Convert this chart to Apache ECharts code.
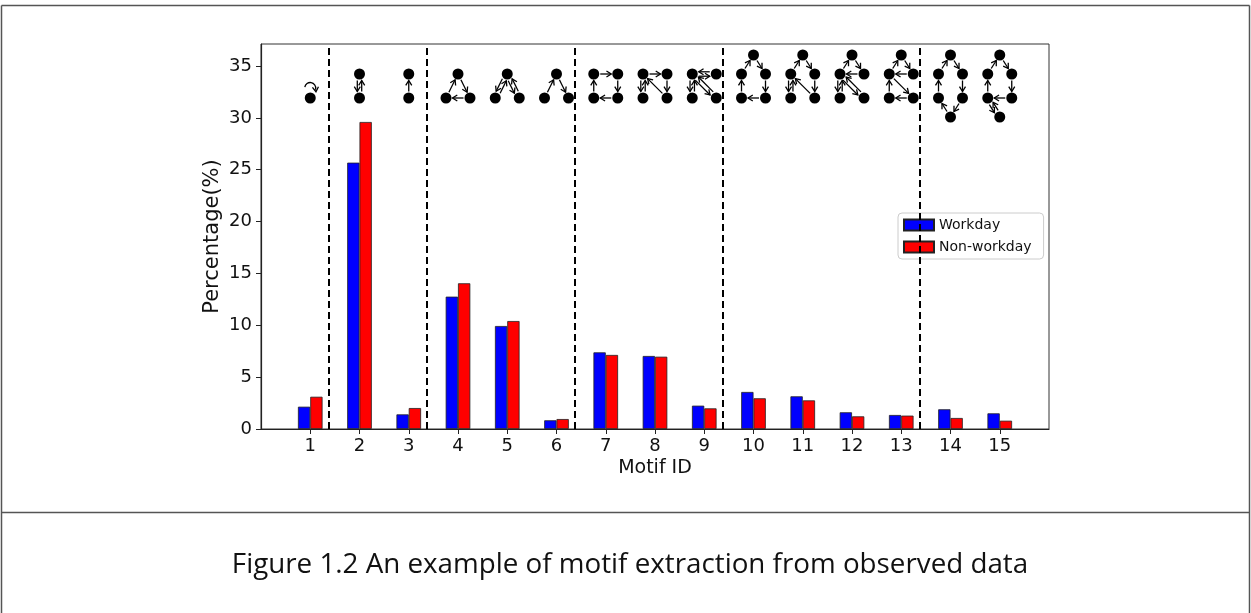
<!DOCTYPE html>
<html>
<head>
<meta charset="utf-8">
<script src="https://cdn.jsdelivr.net/npm/echarts@6/dist/echarts.min.js"></script>
<style>
html,body{margin:0;padding:0;background:#fff;}
#chart{width:1251px;height:613px;}
</style>
</head>
<body>
<div id="chart"></div>
<script>
// ---- data ----
const motifIds = [1,2,3,4,5,6,7,8,9,10,11,12,13,14,15];
const xTickValues = [1,2,3,4,5,6,7,8,9,10,11,12,13,14,15];
const yTickValues = [0,5,10,15,20,25,30,35];
const workday    = [2.15, 25.68, 1.41, 12.76, 9.93, 0.84, 7.39, 7.04, 2.25, 3.57, 3.15, 1.61, 1.35, 1.90, 1.51];
const nonWorkday = [3.11, 29.60, 2.02, 14.05, 10.41, 0.96, 7.14, 6.97, 1.99, 2.96, 2.76, 1.22, 1.29, 1.06, 0.80];
const groupBoundaries = [1.5, 3.5, 6.5, 9.5, 13.5];
const seriesNames = ['Workday', 'Non-workday'];
const captionText = 'Figure 1.2 An example of motif extraction from observed data';

// motif graph structures: nodes as [column, row], edges as [from, to]
const T=[0,0], ML=[-1,1], MR=[1,1], BL=[-1,2], BR=[1,2], BOT=[0,3], C1=[0,1], C2=[0,2];
const motifs = [
  {nodes:[C2], edges:[[0,0]]},
  {nodes:[C1,C2], edges:[[1,0],[0,1]]},
  {nodes:[C1,C2], edges:[[1,0]]},
  {nodes:[C1,BL,BR], edges:[[1,0],[0,2],[2,1]]},
  {nodes:[C1,BL,BR], edges:[[1,0],[0,1],[0,2],[2,0]]},
  {nodes:[C1,BL,BR], edges:[[1,0],[0,2]]},
  {nodes:[ML,MR,BL,BR], edges:[[0,1],[1,3],[3,2],[2,0]]},
  {nodes:[ML,MR,BL,BR], edges:[[0,1],[1,3],[0,2],[2,0],[3,0]]},
  {nodes:[ML,MR,BL,BR], edges:[[0,1],[1,0],[0,2],[2,0],[0,3],[3,0]]},
  {nodes:[T,ML,MR,BL,BR], edges:[[1,0],[0,2],[2,4],[4,3],[3,1]]},
  {nodes:[T,ML,MR,BL,BR], edges:[[1,0],[0,2],[2,4],[1,3],[3,1],[4,1]]},
  {nodes:[T,ML,MR,BL,BR], edges:[[1,0],[0,2],[2,1],[1,3],[3,1],[1,4],[4,1]]},
  {nodes:[T,ML,MR,BL,BR], edges:[[1,0],[0,2],[2,1],[3,1],[1,4],[4,3]]},
  {nodes:[T,ML,MR,BL,BR,BOT], edges:[[1,0],[0,2],[2,4],[4,5],[5,3],[3,1]]},
  {nodes:[T,ML,MR,BL,BR,BOT], edges:[[1,0],[0,2],[2,4],[4,3],[3,1],[3,5],[5,3]]}
];

const Y_MAX = 37.12;
const FONT = '"DejaVu Sans", sans-serif';

function arrowShapes(p, q, offset, out) {
  const dx = q[0]-p[0], dy = q[1]-p[1];
  const L = Math.hypot(dx, dy);
  const ux = dx/L, uy = dy/L, nx = -uy, ny = ux;
  const sx = p[0] + ux*6.5 + nx*offset, sy = p[1] + uy*6.5 + ny*offset;
  const ex = q[0] - ux*6.5 + nx*offset, ey = q[1] - uy*6.5 + ny*offset;
  const st = {stroke:'#000', lineWidth:1.3, fill:null};
  out.push({type:'line', shape:{x1:sx,y1:sy,x2:ex,y2:ey}, style:st});
  out.push({type:'polyline', shape:{points:[[ex-ux*4.8+nx*3, ey-uy*4.8+ny*3],[ex,ey],[ex-ux*4.8-nx*3, ey-uy*4.8-ny*3]]}, style:st});
}

function renderMotif(params, api) {
  const id = api.value(0);
  const m = motifs[params.dataIndex];
  const cx = api.coord([id, 0])[0];
  const top = api.coord([id, Y_MAX])[1];
  const rowOff = [11, 30, 54, 73];
  const pts = m.nodes.map(n => [cx + n[0]*12, top + rowOff[n[1]]]);
  const children = [];
  m.edges.forEach(e => {
    const a = e[0], b = e[1];
    if (a === b) {
      const p = pts[a];
      const acx = p[0], acy = p[1] - 10;
      children.push({type:'arc', shape:{cx:acx, cy:acy, r:5.5, startAngle:Math.PI*1.05, endAngle:Math.PI*2.1, clockwise:true}, style:{stroke:'#000', lineWidth:1.3, fill:null}});
      const hx = acx + 5.4, hy = acy + 1.5;
      children.push({type:'polyline', shape:{points:[[hx-3.2, hy-2.2],[hx+0.3, hy+2.2],[hx+2.8, hy-2.8]]}, style:{stroke:'#000', lineWidth:1.3, fill:null}});
      return;
    }
    const bidir = m.edges.some(f => f[0] === b && f[1] === a);
    arrowShapes(pts[a], pts[b], bidir ? 2.2 : 0, children);
  });
  pts.forEach(p => children.push({type:'circle', shape:{cx:p[0], cy:p[1], r:5.5}, style:{fill:'#000'}}));
  return {type:'group', children};
}

const chart = echarts.init(document.getElementById('chart'), null, {renderer:'canvas'});

// caption font size fitted to reference width
const mctx = document.createElement('canvas').getContext('2d');
mctx.font = '22px "Open Sans"';
const capSize = Math.max(16, Math.min(30, 22 * 797 / mctx.measureText(captionText).width));

const option = {
  backgroundColor: '#fff',
  animation: false,
  textStyle: {fontFamily: FONT},
  grid: {left: 261, top: 44, width: 788, height: 385, show: true, borderColor: '#333', borderWidth: 1, backgroundColor: 'transparent', outerBoundsMode: 'none'},
  legend: {
    data: seriesNames,
    orient: 'vertical',
    left: 898, top: 213,
    icon: 'rect',
    itemWidth: 30, itemHeight: 11, itemGap: 6,
    padding: [4, 12, 4, 5],
    backgroundColor: 'rgba(255,255,255,0.8)',
    borderColor: '#cccccc', borderWidth: 1, borderRadius: 4,
    textStyle: {fontFamily: FONT, fontSize: 14, color: '#111', lineHeight: 16},
    selectedMode: false
  },
  xAxis: {
    type: 'value', min: 0, max: 16,
    name: 'Motif ID', nameLocation: 'middle', nameGap: 30, nameMoveOverlap: false,
    nameTextStyle: {fontFamily: FONT, fontSize: 19, color: '#111'},
    axisLine: {show: true, onZero: false, lineStyle: {color: '#222', width: 1.2}},
    axisTick: {show: true, length: 5, lineStyle: {color: '#222', width: 1}, customValues: xTickValues},
    axisLabel: {fontFamily: FONT, fontSize: 18, color: '#111', margin: 8, customValues: xTickValues},
    splitLine: {show: false}
  },
  yAxis: {
    type: 'value', min: 0, max: Y_MAX,
    name: 'Percentage(%)', nameLocation: 'middle', nameGap: 38, nameMoveOverlap: false,
    nameTextStyle: {fontFamily: FONT, fontSize: 21, color: '#111'},
    axisLine: {show: true, lineStyle: {color: '#222', width: 1.2}},
    axisTick: {show: true, length: 5, lineStyle: {color: '#222', width: 1}, customValues: yTickValues},
    axisLabel: {fontFamily: FONT, fontSize: 18, color: '#111', margin: 9, customValues: yTickValues},
    splitLine: {show: false}
  },
  series: [
    {
      name: seriesNames[0], type: 'bar',
      data: motifIds.map((id, i) => [id, workday[i]]),
      barWidth: 12.3, barGap: '0%',
      itemStyle: {color: '#0000ff', borderColor: '#222', borderWidth: 0.8},
      markLine: {
        silent: true, symbol: 'none', label: {show: false},
        lineStyle: {color: '#000', width: 2, type: [7, 4]},
        data: groupBoundaries.map(v => ({xAxis: v}))
      }
    },
    {
      name: seriesNames[1], type: 'bar',
      data: motifIds.map((id, i) => [id, nonWorkday[i]]),
      barWidth: 12.3, barGap: '0%',
      itemStyle: {color: '#ff0000', borderColor: '#222', borderWidth: 0.8}
    },
    {
      name: 'motifs', type: 'custom', coordinateSystem: 'cartesian2d',
      data: motifIds.map(id => [id]),
      encode: {x: 0},
      renderItem: renderMotif,
      clip: false, silent: true, z: 5
    }
  ],
  graphic: [
    {type:'line', shape:{x1:1.5, y1:5.5, x2:1249.5, y2:5.5}, style:{stroke:'#555', lineWidth:1.5}},
    {type:'line', shape:{x1:1.5, y1:5.5, x2:1.5, y2:613}, style:{stroke:'#555', lineWidth:1.5}},
    {type:'line', shape:{x1:1249.5, y1:5.5, x2:1249.5, y2:613}, style:{stroke:'#555', lineWidth:1.5}},
    {type:'line', shape:{x1:1.5, y1:512.5, x2:1249.5, y2:512.5}, style:{stroke:'#555', lineWidth:1.5}},
    {type:'text', x: 630, y: 565, style:{text: captionText, fontFamily:'"Open Sans", sans-serif', fontSize: capSize, fill:'#111', textAlign:'center', textVerticalAlign:'middle'}}
  ]
};
chart.setOption(option);
</script>
</body>
</html>
